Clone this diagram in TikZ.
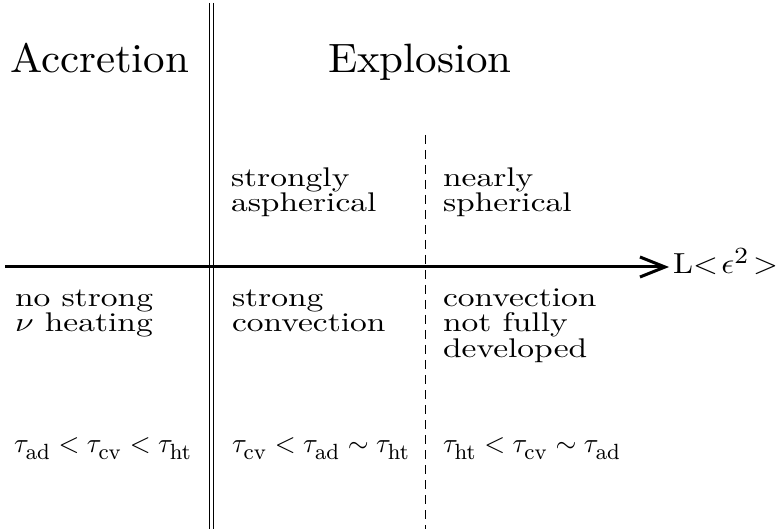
\documentclass[tikz,border=0pt]{standalone}
\usetikzlibrary{arrows.meta}
\DeclareMathSizes{10}{10}{7.6}{5}
\newcommand\tx[1]{\scalebox{3.35}[2.7]{#1}}
\newcommand\bigtx[1]{\scalebox{4.3}[4.1]{#1}}
\newcommand\mtx[1]{\scalebox{2.68}[2.75]{#1}}
\newcommand\ts[1]{\tau_{\lower1.3pt\hbox{$\scriptstyle\mathrm{#1}$}}}
\begin{document}
\begin{tikzpicture}[x=1pt,y=-1pt,
  lbl/.style={anchor=base west, inner sep=0pt, outer sep=0pt, font=\normalsize},
  axis/.style={line width=3pt, -{Straight Barb[length=25pt,width=20pt]}},
  divider/.style={line width=0.9pt},
  split/.style={line width=1pt, dash pattern=on 9pt off 6pt}]
\useasboundingbox (0,0) rectangle (782,529);
% dividers
\coordinate (d1t) at (209.5,3);
\coordinate (d1b) at (209.5,529);
\coordinate (d2t) at (213.3,3);
\coordinate (d2b) at (213.3,529);
\draw[divider] (d1t) -- (d1b);
\draw[divider] (d2t) -- (d2b);
\coordinate (dst) at (425.3,135);
\coordinate (dsb) at (425.3,529);
\draw[split] (dst) -- (dsb);
% axis
\coordinate (axL) at (5,267);
\coordinate (axR) at (669,267);
\draw[axis] (axL) -- (axR);
\node[lbl] (axlab) at (673,274) {\scalebox{3.2}[2.9]{L$<\!\epsilon^2\!>$}};
% headers
\node[lbl] (acc) at (10,73) {\bigtx{Accretion}};
\node[lbl] (exp) at (328,73) {\bigtx{Explosion}};
% upper labels
\node[lbl] (u1a) at (231,187) {\tx{strongly}};
\node[lbl] (u1b) at (231,212) {\tx{aspherical}};
\node[lbl] (u2a) at (443,187) {\tx{nearly}};
\node[lbl] (u2b) at (443,212) {\tx{spherical}};
% lower labels
\node[lbl] (l1a) at (15,307) {\tx{no strong}};
\node[lbl] (l1b) at (15,332) {\tx{$\nu$ heating}};
\node[lbl] (l2a) at (232,307) {\tx{strong}};
\node[lbl] (l2b) at (232,332) {\tx{convection}};
\node[lbl] (l3a) at (443,307) {\tx{convection}};
\node[lbl] (l3b) at (443,332) {\tx{not fully}};
\node[lbl] (l3c) at (443,357) {\tx{developed}};
% time scales
\node[lbl] (t1) at (14,452) {\mtx{$\ts{ad}<\ts{cv}<\ts{ht}$}};
\node[lbl] (t2) at (232,452) {\mtx{$\ts{cv}<\ts{ad}\sim\ts{ht}$}};
\node[lbl] (t3) at (443,452) {\mtx{$\ts{ht}<\ts{cv}\sim\ts{ad}$}};
\end{tikzpicture}
\end{document}
